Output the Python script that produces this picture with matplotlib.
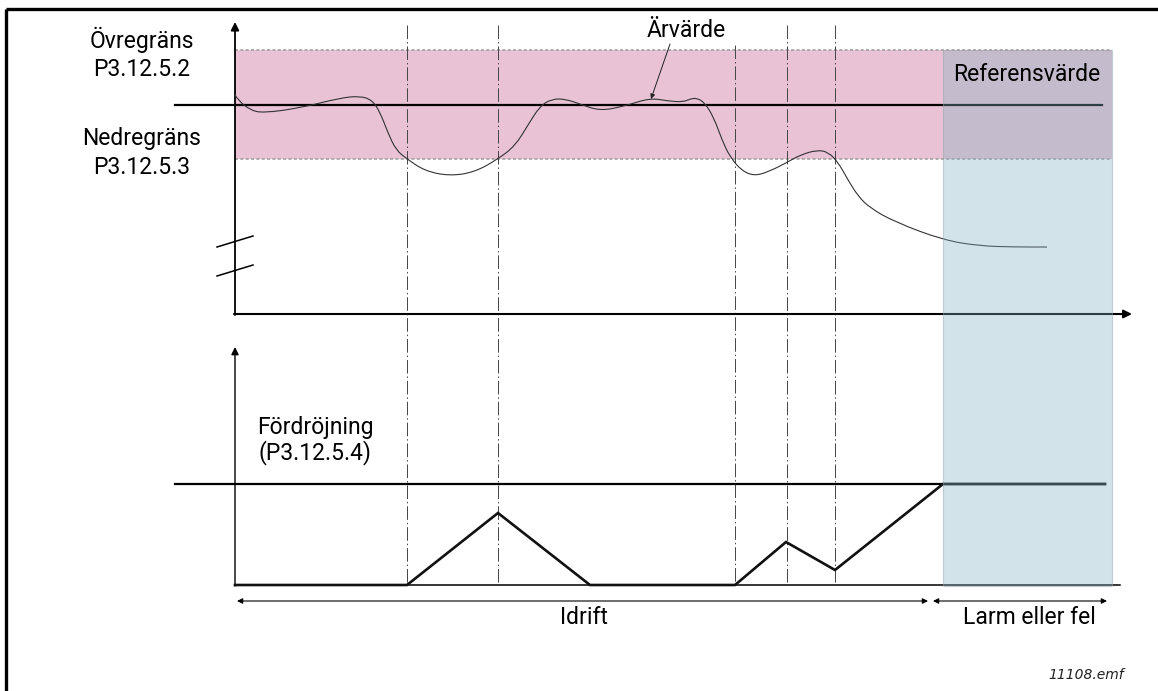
import matplotlib.pyplot as plt
from matplotlib.patches import Rectangle, PathPatch
from matplotlib.path import Path

plt.rcParams['font.family'] = ['Roboto', 'DejaVu Sans']

# diagram coordinates (pixel-like units, y grows downward)
band_top, band_bottom = 50, 159          # Övregräns / Nedregräns
ref_level = 105                          # Referensvärde
delay_level = 484                        # Fördröjning
alarm_start, alarm_end = 943, 1112       # Larm eller fel region
events = [407, 498, 735, 787, 835]       # limit crossings
event_tops = [25, 25, 45, 25, 25]

act_x = [235, 238, 250, 263, 300, 340, 360, 372, 380, 388, 396, 407, 425,
         450, 475, 498, 515, 528, 540, 552, 565, 580, 600, 625, 650, 668,
         683, 690, 697, 705, 714, 722, 730, 742, 755, 770, 786, 800, 817,
         828, 838, 848, 858, 870, 895, 943, 980, 1015, 1047]
act_y = [95, 100, 110, 113, 108, 98, 96, 100, 112, 133, 150, 159, 171,
         176, 172, 159, 146, 125, 106, 99, 99, 104, 111, 106, 98, 101,
         102, 99, 98, 103, 118, 140, 157, 171, 176, 171, 163, 155, 150,
         152, 162, 180, 196, 208, 222, 240, 246, 247, 247]

# delay counter
delay_x = [235, 407, 498, 590, 735, 786, 835, 943, 1105]
delay_y = [585, 585, 513, 585, 585, 542, 570, 484, 484]

fig = plt.figure(figsize=(11.58, 6.91), dpi=100)
ax = fig.add_axes([0, 0, 1, 1])
ax.set_xlim(0, 1158)
ax.set_ylim(691, 0)
ax.axis('off')

# frame (top + left)
ax.plot([6, 1158], [9, 9], color='black', lw=2.4, solid_capstyle='butt')
ax.plot([6, 6], [9, 691], color='black', lw=2.4, solid_capstyle='butt')

# limit band
ax.add_patch(Rectangle((235, band_top), alarm_end - 235, band_bottom - band_top,
                       facecolor='#e9c2d5', edgecolor='none', zorder=1))
for yb in [band_top, band_bottom]:
    ax.plot([235, alarm_end], [yb, yb], color='#9a9a9a', lw=1.1,
            dashes=(2, 1.5), zorder=2)

# event lines
for ex, et in zip(events, event_tops):
    ax.plot([ex, ex], [et, 585], color='#444444', lw=0.7,
            dashes=(14, 3, 1.5, 3), zorder=2)

# upper axes
ax.annotate('', xy=(235, 22), xytext=(235, 315),
            arrowprops=dict(arrowstyle='-|>', color='black', lw=1.3,
                            mutation_scale=12, shrinkA=0, shrinkB=0), zorder=3)
ax.annotate('', xy=(1132, 314), xytext=(234, 314),
            arrowprops=dict(arrowstyle='-|>', color='black', lw=1.5,
                            mutation_scale=12, shrinkA=0, shrinkB=0), zorder=3)
for yb in [247, 276]:
    ax.plot([217, 253], [yb, yb - 11], color='black', lw=1.1, zorder=3)

ax.plot([175, 1102], [ref_level, ref_level], color='black', lw=1.6, zorder=3)

# smooth actual-value curve: quadratic segments through midpoints
pts = list(zip(act_x, act_y))
verts = [pts[0]]
codes = [Path.MOVETO]
for i in range(1, len(pts) - 1):
    mid = ((pts[i][0] + pts[i + 1][0]) / 2, (pts[i][1] + pts[i + 1][1]) / 2)
    verts += [pts[i], mid]
    codes += [Path.CURVE3, Path.CURVE3]
verts.append(pts[-1])
codes.append(Path.LINETO)
ax.add_patch(PathPatch(Path(verts, codes), facecolor='none',
                       edgecolor='#333333', lw=0.8, zorder=3))

# lower axes
ax.annotate('', xy=(235, 347), xytext=(235, 586),
            arrowprops=dict(arrowstyle='-|>', color='black', lw=1.0,
                            mutation_scale=11, shrinkA=0, shrinkB=0), zorder=3)
ax.plot([235, 1120], [585, 585], color='black', lw=1.1, zorder=3)
ax.plot([175, 1105], [delay_level, delay_level], color='black', lw=1.6, zorder=3)
ax.plot(delay_x, delay_y, color='#111111', lw=1.9, zorder=4,
        solid_joinstyle='miter')

# alarm region overlay
ax.add_patch(Rectangle((alarm_start, band_top), alarm_end - alarm_start, 586 - band_top,
                       facecolor=(130/255, 176/255, 193/255, 0.353),
                       edgecolor=(0.6, 0.65, 0.67, 0.5), lw=0.8, zorder=5))

# time span arrows
arr = dict(arrowstyle='<|-|>', color='black', lw=0.8, mutation_scale=8,
           shrinkA=0, shrinkB=0)
ax.annotate('', xy=(237, 601), xytext=(928, 601), arrowprops=arr)
ax.annotate('', xy=(933, 601), xytext=(1107, 601), arrowprops=arr)

# texts
fs = 16.5
ax.text(142, 40, 'Övregräns', fontsize=fs, ha='center', va='center')
ax.text(142, 69, 'P3.12.5.2', fontsize=fs, ha='center', va='center')
ax.text(142, 138, 'Nedregräns', fontsize=fs, ha='center', va='center')
ax.text(142, 167, 'P3.12.5.3', fontsize=fs, ha='center', va='center')
ax.text(1027, 74, 'Referensvärde', fontsize=fs, ha='center', va='center', zorder=6)
ax.text(686, 30, 'Ärvärde', fontsize=fs, ha='center', va='center')
ax.annotate('', xy=(651, 99), xytext=(670, 44),
            arrowprops=dict(arrowstyle='-|>', color='#222222', lw=0.7,
                            mutation_scale=7, shrinkA=0, shrinkB=0))
ax.text(315, 427, 'Fördröjning', fontsize=fs, ha='center', va='center')
ax.text(315, 453, '(P3.12.5.4)', fontsize=fs, ha='center', va='center')
ax.text(584, 618, 'Idrift', fontsize=fs, ha='center', va='center')
ax.text(1029, 618, 'Larm eller fel', fontsize=fs, ha='center', va='center')
ax.text(1124, 675, '11108.emf', fontsize=10, ha='right', va='center',
        style='italic', color='#222222', family='DejaVu Sans')

fig.savefig('out.png', dpi=100)
